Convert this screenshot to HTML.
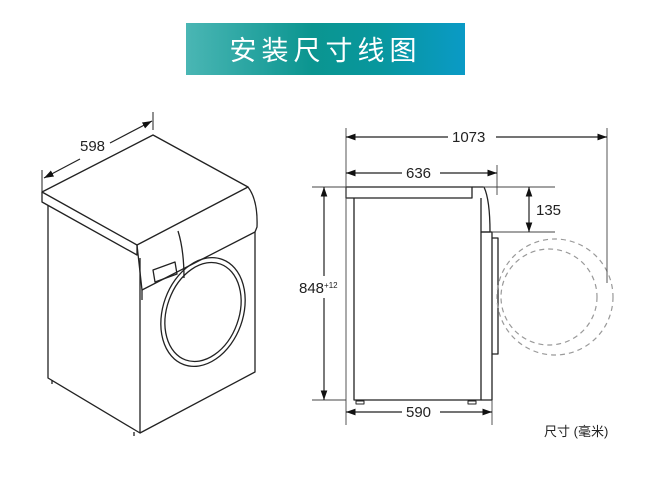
<!DOCTYPE html>
<html><head><meta charset="utf-8"><style>
body{margin:0;background:#fff;width:650px;height:489px;overflow:hidden;position:relative;font-family:"Liberation Sans","Noto Sans CJK SC",sans-serif}
.ban{position:absolute;left:186px;top:23px;width:279px;height:52px;background:linear-gradient(90deg,#4ab6b4,#0b9590 45%,#08979e 70%,#0a9ac6);color:#fff;font-size:27px;text-align:center;line-height:52px;letter-spacing:5px;font-family:"Noto Sans CJK SC",sans-serif}
svg{position:absolute;left:0;top:0}
</style></head><body>
<div class="ban">安装尺寸线图</div>
<svg width="650" height="489" viewBox="0 0 650 489">
<defs><marker id="a" viewBox="0 0 10 10" refX="10" refY="5" markerWidth="8" markerHeight="8" orient="auto-start-reverse"><path d="M0,1.5L10,5L0,8.5z" fill="#111"/></marker></defs>
<g fill="none" stroke="#222" stroke-width="1.3" stroke-linejoin="round">
<!-- left iso machine -->
<path d="M42,192 L153,135 L248,187 L137,245 Z" fill="#fff"/>
<path d="M42,192 L42,202 L137,255 L137,245"/>
<path d="M137,245 L142,290 L255,232"/>
<path d="M248,187 Q258,200 257,227 L255,232"/>
<path d="M48,205 L48,378 L140,433 L140,258"/>
<path d="M140,433 L255,372 L255,232"/>
<path d="M142,290 L142,300"/>
<path d="M178,231 Q184,250 184,278"/>
<path d="M153,270 L175,262 L177,274 L155,282 Z"/>
<ellipse cx="203" cy="312" rx="40" ry="56" transform="rotate(20 203 312)"/>
<ellipse cx="203" cy="312" rx="36" ry="51" transform="rotate(20 203 312)"/>
<path d="M52,380 l0,4 M134,432 l0,4"/>
<!-- 598 -->
<path d="M42,200 L42,170 M153,130 L153,112" stroke-width="1"/>
<line x1="44" y1="178" x2="80" y2="159" stroke-width="1.2" marker-start="url(#a)"/>
<line x1="110" y1="143" x2="152" y2="121" stroke-width="1.2" marker-end="url(#a)"/>
<!-- right side view -->
<path d="M346,187 L472,187 L472,198 L346,198 Z"/>
<path d="M472,187 L484,187 Q490,200 490,232 L481,232 L481,198"/>
<path d="M354,198 L354,400 L481,400 L481,232"/>
<path d="M481,232 L492,232 L492,400 L481,400"/>
<path d="M492,238 L498,238 L498,354 L492,354"/>
<path d="M356,401 h8 v3 h-8z M468,401 h8 v3 h-8z" stroke-width="1"/>
<g stroke="#999" stroke-dasharray="5,4" stroke-width="1.2"><circle cx="555" cy="297" r="58"/><circle cx="549" cy="297" r="48"/></g>
<g stroke-width="0.9" stroke="#444">
<path d="M346,128 V425 M607,128 V283 M497,165 V195 M312,187 H346 M312,400 H346 M483,187 H555 M492,232 H555 M492,400 V425"/>
</g>
<g stroke-width="1.2">
<line x1="346" y1="137" x2="448" y2="137" marker-start="url(#a)"/>
<line x1="496" y1="137" x2="607" y2="137" marker-end="url(#a)"/>
<line x1="346" y1="173" x2="402" y2="173" marker-start="url(#a)"/>
<line x1="440" y1="173" x2="497" y2="173" marker-end="url(#a)"/>
<line x1="529" y1="187" x2="529" y2="232" marker-start="url(#a)" marker-end="url(#a)"/>
<line x1="324" y1="187" x2="324" y2="276" marker-start="url(#a)"/>
<line x1="324" y1="298" x2="324" y2="400" marker-end="url(#a)"/>
<line x1="346" y1="412" x2="402" y2="412" marker-start="url(#a)"/>
<line x1="440" y1="412" x2="492" y2="412" marker-end="url(#a)"/>
</g>
</g>
<g font-family="Liberation Sans,sans-serif" font-size="15" fill="#222">
<text x="80" y="151" font-size="15">598</text>
<text x="452" y="142">1073</text>
<text x="406" y="178">636</text>
<text x="536" y="215">135</text>
<text x="299" y="293">848<tspan font-size="8" dy="-5">+12</tspan></text>
<text x="406" y="417">590</text>
<text x="544" y="436" font-size="13" font-family="Liberation Sans,Noto Sans CJK SC,sans-serif">尺寸 (毫米)</text>
</g>
</svg>
</body></html>
